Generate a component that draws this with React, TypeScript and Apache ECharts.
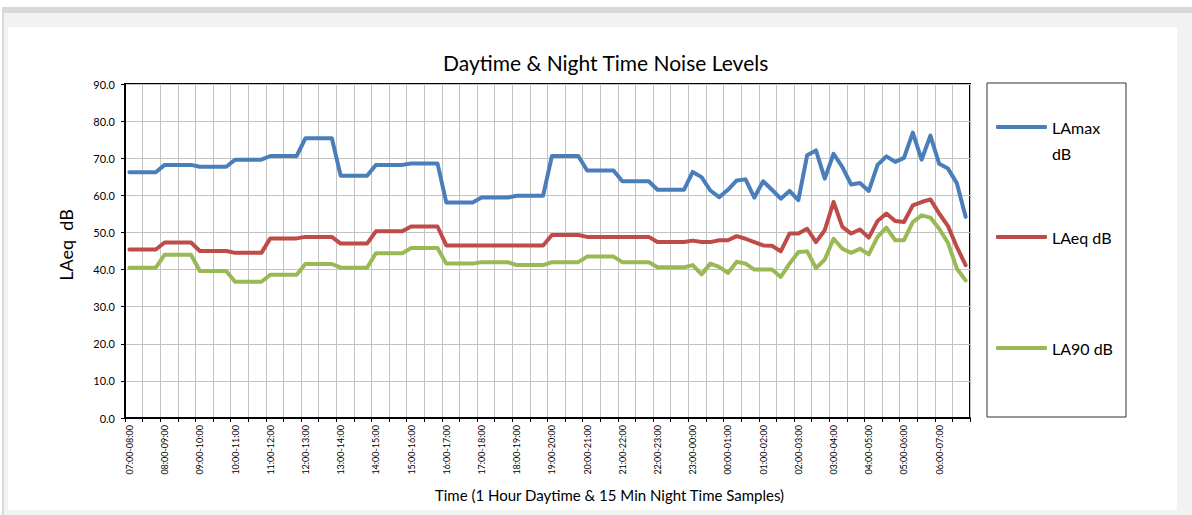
import React, { useEffect, useRef } from "react";
import * as echarts from "echarts";

// Hour labels shown on the x axis (each hour is split into four 15-minute slots)
const hourLabels = [
  "07:00-08:00", "08:00-09:00", "09:00-10:00", "10:00-11:00", "11:00-12:00", "12:00-13:00",
  "13:00-14:00", "14:00-15:00", "15:00-16:00", "16:00-17:00", "17:00-18:00", "18:00-19:00",
  "19:00-20:00", "20:00-21:00", "21:00-22:00", "22:00-23:00", "23:00-00:00", "00:00-01:00",
  "01:00-02:00", "02:00-03:00", "03:00-04:00", "04:00-05:00", "05:00-06:00", "06:00-07:00",
];
const quarterSuffix = ["", " :15", " :30", " :45"];
const categories = hourLabels.flatMap((h) => quarterSuffix.map((q) => h + q));

const yTicks = [0, 10, 20, 30, 40, 50, 60, 70, 80, 90];

// Daytime: 1 hour samples (shown over 4 slots); night: 15 min samples
const laMax = [
  66.2, 66.2, 66.2, 66.2, 68.2, 68.2, 68.2, 68.2, 67.7, 67.7, 67.7, 67.7, 69.6, 69.6, 69.6, 69.6,
  70.6, 70.6, 70.6, 70.6, 75.4, 75.4, 75.4, 75.4, 65.3, 65.3, 65.3, 65.3, 68.2, 68.2, 68.2, 68.2,
  68.6, 68.6, 68.6, 68.6, 58.1, 58.1, 58.1, 58.1, 59.4, 59.4, 59.4, 59.4, 59.9, 59.9, 59.9, 59.9,
  70.6, 70.6, 70.6, 70.6, 66.7, 66.7, 66.7, 66.7, 63.8, 63.8, 63.8, 63.8, 61.5, 61.5, 61.5, 61.5,
  66.3, 64.9, 61.3, 59.5, 61.5, 64.0, 64.3, 59.4, 63.8, 61.5, 59.1, 61.2, 58.7, 70.8, 72.1, 64.5,
  71.2, 67.6, 62.9, 63.3, 61.2, 68.2, 70.5, 69.0, 70.1, 76.9, 69.6, 76.1, 68.5, 67.2, 63.3, 54.2,
];
const laEq = [
  45.4, 45.4, 45.4, 45.4, 47.3, 47.3, 47.3, 47.3, 45.0, 45.0, 45.0, 45.0, 44.5, 44.5, 44.5, 44.5,
  48.4, 48.4, 48.4, 48.4, 48.8, 48.8, 48.8, 48.8, 47.0, 47.0, 47.0, 47.0, 50.3, 50.3, 50.3, 50.3,
  51.6, 51.6, 51.6, 51.6, 46.5, 46.5, 46.5, 46.5, 46.5, 46.5, 46.5, 46.5, 46.5, 46.5, 46.5, 46.5,
  49.3, 49.3, 49.3, 49.3, 48.8, 48.8, 48.8, 48.8, 48.8, 48.8, 48.8, 48.8, 47.4, 47.4, 47.4, 47.4,
  47.8, 47.4, 47.4, 47.9, 47.9, 49.0, 48.3, 47.4, 46.5, 46.4, 44.9, 49.7, 49.7, 51.0, 47.4, 50.6,
  58.2, 51.5, 49.7, 50.8, 48.6, 53.1, 55.1, 53.1, 52.8, 57.3, 58.2, 58.9, 55.1, 51.7, 46.1, 41.2,
];
const la90 = [
  40.5, 40.5, 40.5, 40.5, 44.0, 44.0, 44.0, 44.0, 39.6, 39.6, 39.6, 39.6, 36.7, 36.7, 36.7, 36.7,
  38.6, 38.6, 38.6, 38.6, 41.5, 41.5, 41.5, 41.5, 40.5, 40.5, 40.5, 40.5, 44.4, 44.4, 44.4, 44.4,
  45.8, 45.8, 45.8, 45.8, 41.6, 41.6, 41.6, 41.6, 42.0, 42.0, 42.0, 42.0, 41.2, 41.2, 41.2, 41.2,
  42.0, 42.0, 42.0, 42.0, 43.5, 43.5, 43.5, 43.5, 42.0, 42.0, 42.0, 42.0, 40.6, 40.6, 40.6, 40.6,
  41.2, 38.7, 41.6, 40.7, 39.1, 42.1, 41.6, 40.0, 40.0, 40.0, 38.0, 41.6, 44.7, 44.9, 40.4, 42.7,
  48.3, 45.6, 44.5, 45.6, 44.1, 48.8, 51.3, 47.9, 47.9, 52.8, 54.6, 54.0, 51.0, 47.2, 40.3, 37.1,
];

const seriesNames = ["LAmax dB", "LAeq dB", "LA90 dB"];
const seriesColors = ["#4a7ebb", "#be4b48", "#98b954"];

const FONT = "Lato";

export default function App() {
  const ref = useRef<HTMLDivElement>(null);

  useEffect(() => {
    if (!ref.current) return;
    const chart = echarts.init(ref.current, undefined, { renderer: "svg" });
    const values = [laMax, laEq, la90];
    const option: any = {
      animation: false,
      textStyle: { fontFamily: FONT },
      title: {
        text: "Daytime & Night Time Noise Levels",
        left: 443,
        top: 52,
        padding: 0,
        textStyle: { fontSize: 21, fontWeight: "normal", color: "#000", fontFamily: FONT },
      },
      grid: {
        left: 125,
        right: 222,
        top: 84,
        bottom: 97,
        show: true,
        borderColor: "#000",
        borderWidth: 2,
        backgroundColor: "transparent",
      },
      xAxis: {
        type: "category",
        data: categories,
        boundaryGap: true,
        name: "Time (1 Hour Daytime & 15 Min Night Time Samples)",
        nameLocation: "middle",
        nameGap: 69,
        nameTextStyle: { fontSize: 15, color: "#000", fontFamily: FONT, padding: [0, 0, 0, 124] },
        axisLine: { show: true, lineStyle: { color: "#000", width: 2 } },
        axisTick: { show: true, interval: 1, length: 4, lineStyle: { color: "#000", width: 1 } },
        axisLabel: {
          interval: 3,
          rotate: 90,
          fontSize: 9,
          margin: 7,
          color: "#000",
          fontFamily: FONT,
        },
        splitLine: { show: true, interval: 1, lineStyle: { color: "#c3c3c3", width: 1 } },
      },
      yAxis: {
        type: "value",
        min: yTicks[0],
        max: yTicks[yTicks.length - 1],
        interval: 10,
        name: "LAeq  dB",
        nameLocation: "middle",
        nameGap: 50,
        nameTextStyle: { fontSize: 18, color: "#000", fontFamily: FONT, padding: [0, 0, 0, 12] },
        axisLine: { show: true, lineStyle: { color: "#000", width: 2 } },
        axisTick: { show: true, length: 4, lineStyle: { color: "#000", width: 1 } },
        axisLabel: {
          fontSize: 11,
          margin: 10,
          color: "#000",
          fontFamily: FONT,
          formatter: (v: number) => v.toFixed(1),
        },
        splitLine: { show: true, lineStyle: { color: "#c3c3c3", width: 1 } },
      },
      legend: [
        {
          data: [seriesNames[0]],
          left: 996,
          top: 88,
          padding: 0,
          itemWidth: 51,
          itemHeight: 4,
          icon: "roundRect",
          formatter: () => "\nLAmax\ndB",
          textStyle: { fontSize: 16, lineHeight: 26, color: "#000", fontFamily: FONT },
        },
        {
          data: [seriesNames[1]],
          left: 996,
          top: 227,
          padding: 0,
          itemWidth: 51,
          itemHeight: 4,
          icon: "roundRect",
          textStyle: { fontSize: 16, lineHeight: 20, color: "#000", fontFamily: FONT },
        },
        {
          data: [seriesNames[2]],
          left: 996,
          top: 338,
          padding: 0,
          itemWidth: 51,
          itemHeight: 4,
          icon: "roundRect",
          textStyle: { fontSize: 16, lineHeight: 20, color: "#000", fontFamily: FONT },
        },
      ],
      graphic: [
        {
          type: "rect",
          shape: { x: 987, y: 83, width: 139, height: 334 },
          style: { fill: "none", stroke: "#333", lineWidth: 1 },
          silent: true,
        },
      ],
      series: seriesNames.map((name, i) => ({
        name,
        type: "line",
        data: values[i],
        showSymbol: false,
        symbol: "none",
        smooth: false,
        itemStyle: { color: seriesColors[i] },
        lineStyle: { color: seriesColors[i], width: 4, cap: "round", join: "round" },
        z: 3 + i,
      })),
    };
    chart.setOption(option);
    return () => chart.dispose();
  }, []);

  return (
    <div style={{ position: "fixed", left: 0, top: 0, width: 1192, height: 515, background: "#fff", overflow: "hidden" }}>
      <div
        style={{
          position: "absolute",
          left: 2,
          top: 7,
          width: 1190,
          height: 508,
          background: "#f2f2f2",
          borderTop: "6px solid #d9d9d9",
          borderLeft: "2px solid #d9d9d9",
          boxSizing: "border-box",
        }}
      />
      <div style={{ position: "absolute", left: 8, top: 27, width: 1169, height: 483, background: "#fff" }} />
      <div ref={ref} style={{ position: "absolute", left: 0, top: 0, width: 1192, height: 515 }} />
    </div>
  );
}
